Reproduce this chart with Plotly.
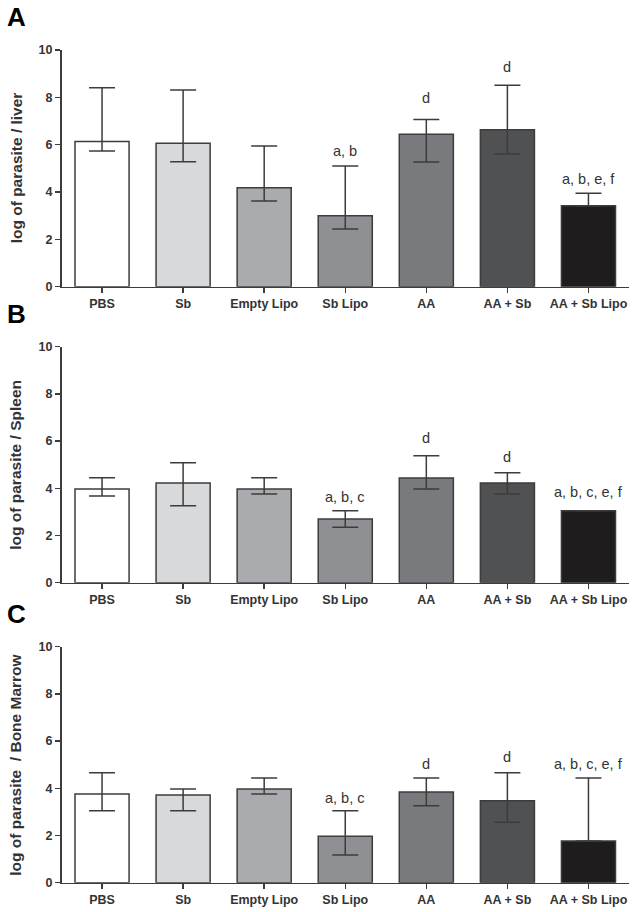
import plotly.graph_objects as go

categories = ["PBS", "Sb", "Empty Lipo", "Sb Lipo", "AA", "AA + Sb", "AA + Sb Lipo"]
bar_colors = ["#ffffff", "#d8d9db", "#aaabaf", "#8f9094", "#797a7e", "#505153", "#1f1c1d"]

# Panel A: liver
liver_mean = [6.13, 6.06, 4.18, 3.00, 6.44, 6.63, 3.42]
liver_upper = [8.41, 8.31, 5.94, 5.10, 7.06, 8.51, 3.95]
liver_lower = [5.73, 5.28, 3.62, 2.44, 5.27, 5.61, 3.42]
liver_letters = ["", "", "", "a, b", "d", "d", "a, b, e, f"]
liver_letter_y = [0, 0, 0, 5.75, 7.99, 9.30, 4.54]

# Panel B: spleen
spleen_mean = [3.97, 4.22, 3.97, 2.70, 4.44, 4.22, 3.05]
spleen_upper = [4.45, 5.08, 4.45, 3.05, 5.38, 4.66, 3.05]
spleen_lower = [3.67, 3.26, 3.76, 2.35, 3.97, 3.76, 3.05]
spleen_letters = ["", "", "", "a, b, c", "d", "d", "a, b, c, e, f"]
spleen_letter_y = [0, 0, 0, 3.64, 6.14, 5.34, 3.86]

# Panel C: bone marrow
bm_mean = [3.76, 3.72, 3.97, 1.97, 3.84, 3.47, 1.77]
bm_upper = [4.66, 3.97, 4.44, 3.05, 4.44, 4.66, 4.44]
bm_lower = [3.05, 3.05, 3.76, 1.17, 3.26, 2.56, 1.77]
bm_letters = ["", "", "", "a, b, c", "d", "d", "a, b, c, e, f"]
bm_letter_y = [0, 0, 0, 3.58, 5.02, 5.34, 5.02]

y_ticks = [0, 2, 4, 6, 8, 10]
panel_letters = ["A", "B", "C"]
y_titles = ["log of parasite / liver", "log of parasite / Spleen", "log of parasite  / Bone Marrow"]

W, H = 638, 912
FONT = "Liberation Sans, Arial, sans-serif"
AX = "#3c3c3c"

# plot areas in pixels (top, bottom)
panels_px = [(50, 286.7), (346.7, 582.7), (646.7, 882.7)]
x_left, x_right = 61.5, 629

panels = [
    (liver_mean, liver_upper, liver_lower, liver_letters, liver_letter_y),
    (spleen_mean, spleen_upper, spleen_lower, spleen_letters, spleen_letter_y),
    (bm_mean, bm_upper, bm_lower, bm_letters, bm_letter_y),
]

fig = go.Figure()
layout = dict(
    width=W, height=H,
    margin=dict(l=0, r=0, t=0, b=0, autoexpand=False),
    paper_bgcolor="white", plot_bgcolor="white",
    showlegend=False,
    font=dict(family=FONT, color="#333333"),
    bargap=0.333,
)
annotations = []
for i, (mean, up, lo, letters, ly) in enumerate(panels):
    n = "" if i == 0 else str(i + 1)
    xa, ya = "x" + n, "y" + n
    fig.add_trace(go.Bar(
        x=categories, y=mean,
        xaxis=xa, yaxis=ya,
        marker=dict(color=bar_colors, line=dict(color=AX, width=1.5)),
        width=0.667,
        error_y=dict(type="data", symmetric=False,
                     array=[u - m for u, m in zip(up, mean)],
                     arrayminus=[m - l for m, l in zip(mean, lo)],
                     color=AX, thickness=1.5, width=13),
        hoverinfo="skip",
    ))
    top, bot = panels_px[i]
    layout["xaxis" + n] = dict(
        domain=[x_left / W, x_right / W], anchor=ya, automargin=False,
        showline=True, linecolor=AX, linewidth=1.5,
        ticks="outside", ticklen=5, tickcolor=AX, tickwidth=1.5,
        tickfont=dict(family=FONT, size=12.5, color="#333333", weight="bold"),
        showgrid=False, zeroline=False, range=[-0.5, 6.5], fixedrange=True,
    )
    layout["yaxis" + n] = dict(
        domain=[1 - bot / H, 1 - top / H], anchor=xa, automargin=False,
        range=[0, 10], tickvals=y_ticks,
        showline=True, linecolor=AX, linewidth=1.5,
        ticks="outside", ticklen=5, tickcolor=AX, tickwidth=1.5,
        tickfont=dict(family=FONT, size=12.5, color="#333333", weight="bold"),
        showgrid=False, zeroline=False, fixedrange=True,
    )
    for c, t, yv in zip(categories, letters, ly):
        if t:
            annotations.append(dict(
                x=c, y=yv, xref=xa, yref=ya, text=t, showarrow=False,
                yanchor="middle", xanchor="center",
                font=dict(family=FONT, size=14.5, color="#333333"),
            ))
    annotations.append(dict(
        x=16 / W, y=1 - (top + bot) / 2 / H, xref="paper", yref="paper",
        text=y_titles[i], textangle=-90, showarrow=False,
        xanchor="center", yanchor="middle",
        font=dict(family=FONT, size=15.5, color="#333333", weight="bold"),
    ))
    annotations.append(dict(
        x=5 / W, y=1 - (top - 33) / H, xref="paper", yref="paper",
        text=panel_letters[i], showarrow=False,
        xanchor="left", yanchor="middle",
        font=dict(family=FONT, size=26, color="#000000", weight="bold"),
    ))

layout["annotations"] = annotations
fig.update_layout(**layout)
fig.write_html(
    "out.html",
    config={"displayModeBar": False, "staticPlot": True},
    post_script="document.body.style.margin='0';document.body.style.padding='0';document.body.style.overflow='hidden';",
)
